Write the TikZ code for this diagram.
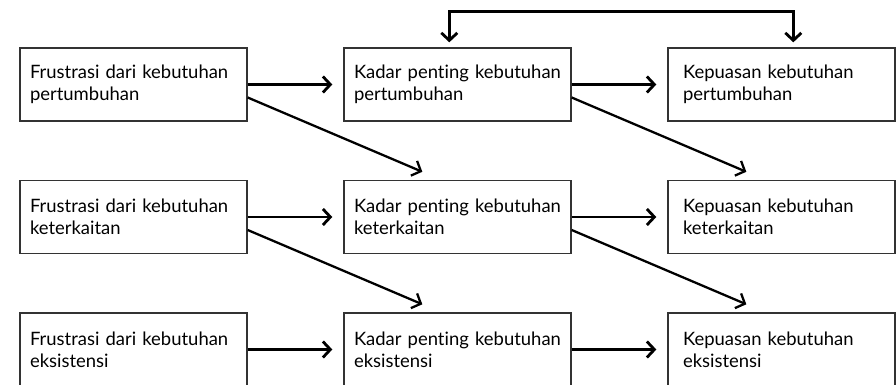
\documentclass[tikz,border=0pt]{standalone}
\usepackage{fontspec}
\setmainfont{Lato}[Ligatures=NoCommon]
\usetikzlibrary{arrows.meta, calc}

\begin{document}
\begin{tikzpicture}[x=0.02cm, y=-0.02cm,
    >={Straight Barb[length=1.5mm, width=3.2mm]},
    kotak/.style={draw=black!80, line width=0.8pt, minimum width=4.54cm, minimum height=1.46cm,
                  text width=4.14cm, inner xsep=0.2cm, align=left,
                  font=\fontsize{10.5}{12.4}\selectfont},
    kanan/.style={kotak, text width=3.94cm, inner xsep=0.3cm},
    panah/.style={->, line width=1.6pt},
    miring/.style={->, line width=1.3pt}]

    \useasboundingbox (0, 0) rectangle (896, 385);

    %% pertumbuhan
    \node[kotak] (f1) at (133.5, 84.5) {Frustrasi dari kebutuhan\\pertumbuhan};
    \node[kotak] (k1) at (457.5, 84.5) {Kadar penting kebutuhan\\pertumbuhan};
    \node[kanan] (p1) at (781.5, 84.5) {Kepuasan kebutuhan\\pertumbuhan};

    %% keterkaitan
    \node[kotak] (f2) at (133.5, 217) {Frustrasi dari kebutuhan\\keterkaitan};
    \node[kotak] (k2) at (457.5, 217) {Kadar penting kebutuhan\\keterkaitan};
    \node[kanan] (p2) at (781.5, 217) {Kepuasan kebutuhan\\keterkaitan};

    %% eksistensi
    \node[kotak] (f3) at (133.5, 349.5) {Frustrasi dari kebutuhan\\eksistensi};
    \node[kotak] (k3) at (457.5, 349.5) {Kadar penting kebutuhan\\eksistensi};
    \node[kanan] (p3) at (781.5, 349.5) {Kepuasan kebutuhan\\eksistensi};

    %% lurus
    \draw[panah] (f1.east) -- ($(k1.west) + (-11, 0)$);
    \draw[panah] (k1.east) -- ($(p1.west) + (-11, 0)$);
    \draw[panah] (f2.east) -- ($(k2.west) + (-11, 0)$);
    \draw[panah] (k2.east) -- ($(p2.west) + (-11, 0)$);
    \draw[panah] (f3.east) -- ($(k3.west) + (-11, 0)$);
    \draw[panah] (k3.east) -- ($(p3.west) + (-11, 0)$);

    %% turun satu baris
    \draw[miring] ($(f1.east) + (0, 13)$) -- ($(k2.north west) + (79, -8)$);
    \draw[miring] ($(k1.east) + (0, 13)$) -- ($(p2.north west) + (79, -8)$);
    \draw[miring] ($(f2.east) + (0, 13)$) -- ($(k3.north west) + (79, -8)$);
    \draw[miring] ($(k2.east) + (0, 13)$) -- ($(p3.north west) + (79, -8)$);

    %% atas
    \draw[panah, <->] ($(k1.north west) + (106, -5)$) -- ++(0, -31) -| ($(p1.north west) + (126, -5)$);
\end{tikzpicture}
\end{document}
